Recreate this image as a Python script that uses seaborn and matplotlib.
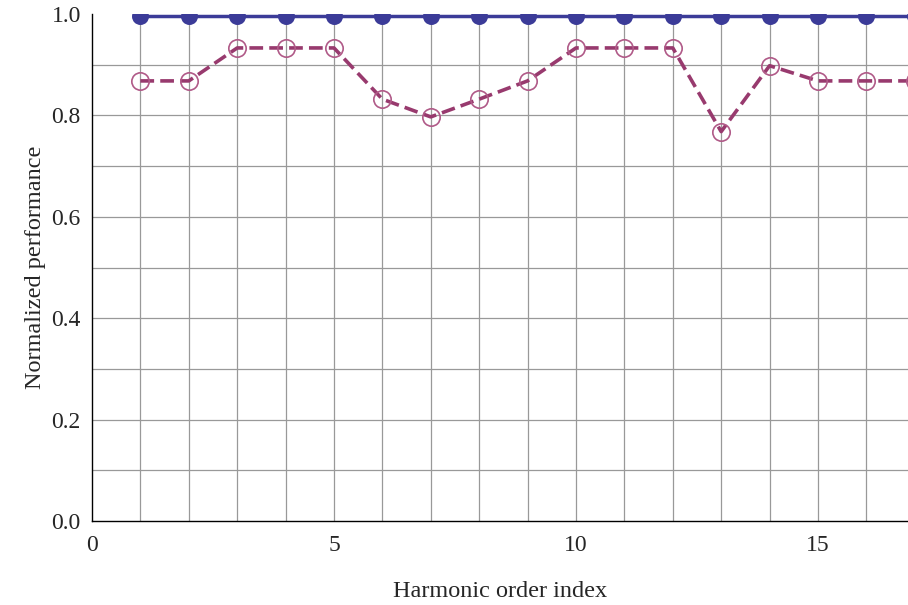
import numpy as np
import pandas as pd
import matplotlib
matplotlib.use("Agg")
import matplotlib.pyplot as plt
import seaborn as sns
from matplotlib.ticker import MultipleLocator

# Data
harmonic_index = [1, 2, 3, 4, 5, 6, 7, 8, 9, 10, 11, 12, 13, 14, 15, 16, 17]
reference_perf = [0.996] * 17
method_perf = [0.868, 0.868, 0.933, 0.933, 0.933, 0.832, 0.797, 0.832, 0.868,
               0.933, 0.933, 0.933, 0.768, 0.898, 0.868, 0.868, 0.868]
x_label = "Harmonic order index"
y_label = "Normalized performance"

df = pd.DataFrame({"x": harmonic_index, "ref": reference_perf, "method": method_perf})

sns.set_theme(style="white")
plt.rcParams["font.family"] = ["Liberation Serif", "DejaVu Serif"]

fig = plt.figure(figsize=(9.08, 6.05), dpi=100)
ax = fig.add_axes([0.1013, 0.1388, 0.8987, 0.8381])

blue = "#3b3b98"
purple = "#983a6e"
purple_m = "#b05a88"

sns.lineplot(data=df, x="x", y="ref", ax=ax, color=blue, linewidth=2.5, zorder=3)
sns.scatterplot(data=df, x="x", y="ref", ax=ax, color=blue, s=150, edgecolor=blue,
                linewidth=0, zorder=4)
sns.lineplot(data=df, x="x", y="method", ax=ax, color=purple, linewidth=2.6,
             zorder=3)
ax.lines[-1].set_dashes([3.8, 1.7])
ax.plot(df["x"], df["method"], linestyle="none", marker="o", markersize=12.5,
        markerfacecolor="none", markeredgecolor=purple_m, markeredgewidth=1.2,
        zorder=4)

ax.set_xlim(0, 16.86)
ax.set_ylim(0, 1.0)
ax.xaxis.set_major_locator(MultipleLocator(5))
ax.xaxis.set_minor_locator(MultipleLocator(1))
ax.yaxis.set_major_locator(MultipleLocator(0.2))
ax.yaxis.set_minor_locator(MultipleLocator(0.1))
ax.yaxis.set_major_formatter(matplotlib.ticker.FormatStrFormatter("%.1f"))

for xv in harmonic_index:
    if xv < 16.86:
        ax.axvline(xv, color="#999999", linewidth=0.9, zorder=1)
for yv in np.arange(0.1, 1.0, 0.1):
    ax.axhline(yv, color="#999999", linewidth=0.9, zorder=1)

for side in ["top", "right"]:
    ax.spines[side].set_visible(False)
for side in ["left", "bottom"]:
    ax.spines[side].set_color("black")
    ax.spines[side].set_linewidth(1.0)

ax.tick_params(axis="both", which="major", direction="in", length=7, width=1,
               color="black", labelsize=17)
ax.tick_params(axis="both", which="minor", direction="in", length=4, width=0.8,
               color="black")
ax.tick_params(axis="x", which="major", pad=10)
ax.tick_params(axis="y", which="major", pad=8)

ax.set_xlabel(x_label, fontsize=17.5, labelpad=18)
ax.set_ylabel(y_label, fontsize=17.5, labelpad=4)

fig.savefig("out.png", dpi=100)
